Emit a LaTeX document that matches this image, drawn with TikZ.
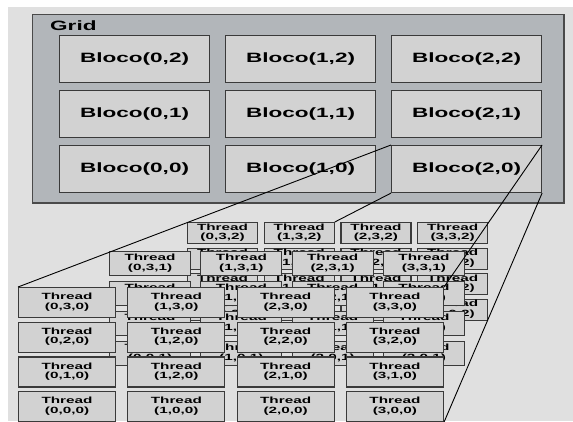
\documentclass[tikz,border=0pt]{standalone}
\usepackage{fontspec}
\setmainfont{Liberation Sans}
\usepackage{graphicx}
\definecolor{boxline}{HTML}{3A3A3A}
\definecolor{boxfill}{HTML}{D2D2D2}
\definecolor{panel}{HTML}{E0E0E0}
\definecolor{gridfill}{HTML}{B2B6BA}
\definecolor{gridedge}{HTML}{4A4A4A}
\newcommand\thrtext[1]{\scalebox{1.7}[1]{\begin{tabular}{@{}c@{}}Thread\\#1\end{tabular}}}
\newcommand\blktext[1]{\scalebox{1.67}[1]{#1}}
\tikzset{
  blk/.style={draw=boxline, fill=boxfill, line width=1.1pt, inner sep=0pt, anchor=north west,
    minimum width=150pt, minimum height=47pt, font=\bfseries\fontsize{13.5}{15}\selectfont},
  thr/.style={draw=boxline, fill=boxfill, line width=1.1pt, inner sep=0pt, anchor=north west,
    font=\bfseries\fontsize{9}{9.3}\selectfont},
  gridbox/.style={draw=gridedge, fill=gridfill, line width=1pt, inner sep=0pt, anchor=north west,
    minimum width=531pt, minimum height=188pt},
  link/.style={black, line width=0.9pt}
}
\begin{document}
\begin{tikzpicture}[x=1pt,y=-1pt]
\useasboundingbox (0,0) rectangle (573,421);
\fill[white] (0,0) rectangle (573,421);
\fill[panel] (8,7) rectangle (573,421);
% Grid
\node[gridbox] (grid) at (32,14) {};
\draw[gridedge, line width=2pt] (grid.north east) -- (grid.south east) -- (grid.south west);
\node[anchor=base west, inner sep=0pt, font=\bfseries\fontsize{13.5}{15}\selectfont] (gridlabel) at (50,30) {\blktext{Grid}};
\foreach \i/\x in {0/59,1/225,2/391}{
  \foreach \j/\y in {2/35,1/90,0/145}{
    \node[blk] (b\i\j) at (\x,\y) {\blktext{Bloco(\i,\j)}};
  }
}
% back layer (z=2)
\foreach \i in {0,...,3}{
  \foreach \j in {0,...,3}{
    \pgfmathsetmacro\xx{187+76.7*\i}
    \pgfmathsetmacro\yy{222+25.5*(3-\j)}
    \node[thr, minimum width=70pt, minimum height=21pt] (t\i\j2) at (\xx,\yy) {\thrtext{(\i,\j,2)}};
  }
}
% middle layer (z=1)
\foreach \i in {0,...,3}{
  \foreach \j in {0,...,3}{
    \pgfmathsetmacro\xx{109+91.3*\i}
    \pgfmathsetmacro\yy{251+30*(3-\j)}
    \node[thr, minimum width=81pt, minimum height=24pt] (t\i\j1) at (\xx,\yy) {\thrtext{(\i,\j,1)}};
  }
}
% front layer (z=0)
\foreach \i in {0,...,3}{
  \foreach \j in {0,...,3}{
    \pgfmathsetmacro\xx{18+109.3*\i}
    \pgfmathsetmacro\yy{287+34.7*(3-\j)}
    \def\lab{(\i,\j,0)}
    \ifnum\i=1 \ifnum\j=1 \def\lab{(1,2,0)}\fi\fi
    \node[thr, minimum width=97pt, minimum height=30pt] (t\i\j0) at (\xx,\yy) {\thrtext{\lab}};
  }
}
% connectors
\draw[link] (b20.north west) -- (t030.north west);
\draw[link] (b20.south west) -- (t132.north east);
\draw[link] (b20.north east) -- (t330.north east);
\draw[link] (b20.south east) -- (t300.south east);
\end{tikzpicture}
\end{document}
